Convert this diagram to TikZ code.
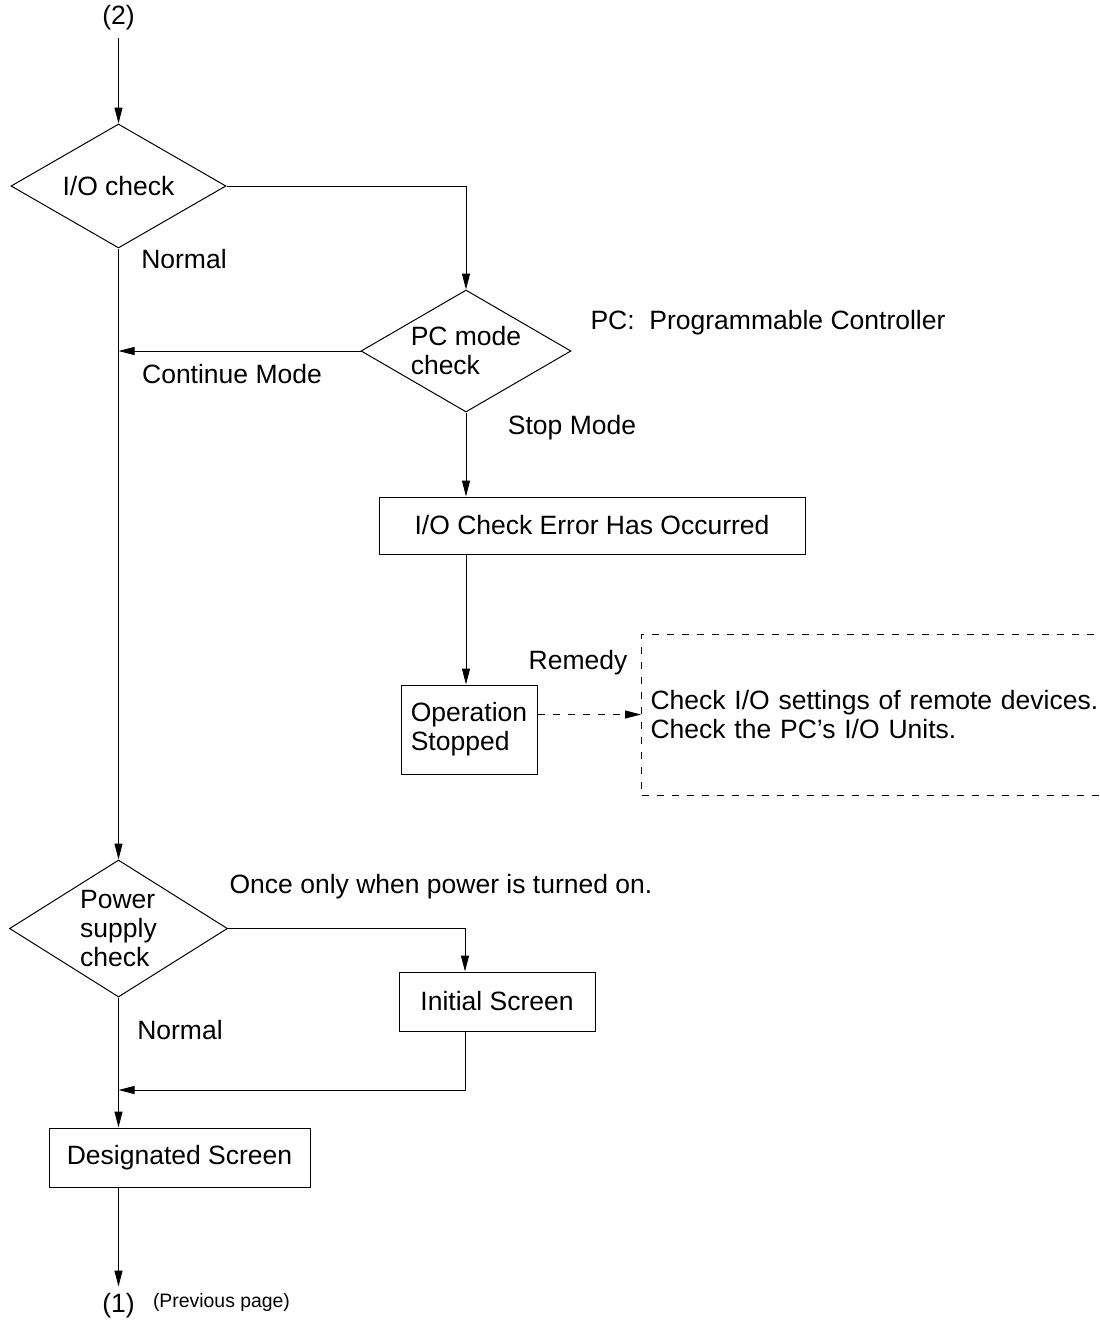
\documentclass[tikz,border=0pt]{standalone}
\usepackage{fontspec}
\setmainfont{Liberation Sans}
\usetikzlibrary{shapes.geometric,arrows.meta,positioning}

\begin{document}
\begin{tikzpicture}[
    x=0.5pt, y=-0.5pt,
    font=\fontsize{13.25}{14.5}\selectfont,
    line width=0.5pt,
    >={Triangle[length=8pt,width=4pt]},
    check_style/.style={draw, diamond, inner sep=0pt, align=left},
    box_style/.style={draw, rectangle, inner sep=3pt, align=center},
    remedy_style/.style={draw, dash pattern=on 3.5pt off 4pt, rectangle, align=left, inner xsep=4.5pt, text width=225pt, minimum height=80.5pt, anchor=west}
]
\useasboundingbox (0,0) rectangle (1099,1324);

\node (two) at (118.5,18) {(2)};
\node[check_style, shape aspect=1.73, minimum width=107.5pt, minimum height=62pt] (iocheck) at (118.5,186) {I/O check};
\node[check_style, shape aspect=1.72, minimum width=105pt, minimum height=61pt] (pcmode) at (466,351) {PC mode\\check};
\node[box_style, minimum width=213pt, minimum height=28.5pt] (ioerror) at (592,525.5) {I/O Check Error Has Occurred};
\node[box_style, align=left, minimum width=68pt, minimum height=44.5pt] (stopped) at (469,729.5) {Operation\\Stopped};
\node[remedy_style] (remedy) at (641,714.5) {Check I/O settings of remote devices.\\Check the PC's I/O Units.};
\node[check_style, shape aspect=1.59, minimum width=109pt, minimum height=68.5pt] (power) at (118.5,928.5) {Power\\supply\\check};
\node[box_style, minimum width=98pt, minimum height=29.5pt] (initial) at (497,1001.5) {Initial Screen};
\node[box_style, minimum width=130.5pt, minimum height=29.5pt] (designated) at (179.5,1157.5) {Designated Screen};
\node (one) at (118.5,1306) {(1)};
\node[font=\fontsize{9.7}{11}\selectfont, right=2pt of one, yshift=2pt] (prevpage) {(Previous page)};

\node (normaltop) at (184,259) {Normal};
\node (continue) at (232,374) {Continue Mode};
\node (pcnote) at (768,323) {PC:\ \ Programmable Controller};
\node (stopmode) at (572,428) {Stop Mode};
\node (remedylabel) at (578,663) {Remedy};
\node (oncenote) at (441,887) {Once only when power is turned on.};
\node (normalbottom) at (180,1030) {Normal};

\coordinate (merge) at (118.5,1090);

\draw[->] (two) -- (iocheck);
\draw[->] (iocheck.east) -| (pcmode.north);
\draw[->] (pcmode.west) -- (pcmode.west -| iocheck.south);
\draw[->] (iocheck.south) -- (power.north);
\draw[->] (pcmode.south) -- (pcmode.south |- ioerror.north);
\draw[->] (pcmode.south |- ioerror.south) -- (pcmode.south |- stopped.north);
\draw[->, dash pattern=on 3.5pt off 4pt] (stopped.east |- remedy.west) -- (remedy.west);
\draw[->] (power.east) -| ([xshift=-16pt]initial.north);
\draw[->] ([xshift=-16pt]initial.south) |- (merge);
\draw[->] (power.south) -- (power.south |- designated.north);
\draw[->] (power.south |- designated.south) -- (one);

\end{tikzpicture}
\end{document}
